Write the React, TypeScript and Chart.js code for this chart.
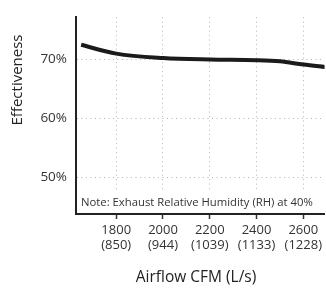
import React, { useEffect, useRef } from "react";
import { Chart, registerables } from "chart.js";

Chart.register(...registerables);

const CFM = [1650, 1800, 2000, 2200, 2400, 2500, 2600, 2700];
const EFFECTIVENESS = [72.5, 71.0, 70.25, 70.0, 69.9, 69.7, 69.15, 68.7];
const X_TICKS = [1800, 2000, 2200, 2400, 2600];
const X_TICKS_LS = ["(850)", "(944)", "(1039)", "(1133)", "(1228)"];
const Y_TICKS = [50, 60, 70];
const NOTE = "Note: Exhaust Relative Humidity (RH) at 40%";
const X_TITLE = "Airflow CFM (L/s)";
const Y_TITLE = "Effectiveness";

const FONT = "'Open Sans', sans-serif";

export default function App() {
  const ref = useRef<HTMLCanvasElement | null>(null);
  useEffect(() => {
    if (!ref.current) return;
    const textPlugin = {
      id: "texts",
      afterDraw(chart: any) {
        const ctx = chart.ctx;
        const area = chart.chartArea;
        ctx.save();
        ctx.fillStyle = "#ffffff";
        ctx.fillRect(area.left + 2, 191, 234, area.bottom - 192);
        ctx.fillStyle = "#333333";
        ctx.font = `11.3px ${FONT}`;
        ctx.textAlign = "left";
        ctx.textBaseline = "middle";
        ctx.fillText(NOTE, area.left + 5, 202.5);
        ctx.font = `15.5px ${FONT}`;
        ctx.fillStyle = "#222222";
        ctx.textAlign = "center";
        ctx.fillText(X_TITLE, 196, 278);
        ctx.font = `15px ${FONT}`;
        ctx.translate(18, 80);
        ctx.rotate(-Math.PI / 2);
        ctx.fillText(Y_TITLE, 0, 0);
        ctx.restore();
      },
    };
    const chart = new Chart(ref.current, {
      type: "line",
      data: {
        datasets: [
          {
            data: CFM.map((x, i) => ({ x, y: EFFECTIVENESS[i] })),
            borderColor: "#1c1a1b",
            borderWidth: 4,
            pointRadius: 0,
            cubicInterpolationMode: "monotone",
            borderCapStyle: "butt",
          },
        ],
      },
      options: {
        animation: false,
        responsive: false,
        layout: { padding: { top: 8, left: 0, right: 0, bottom: 0 } },
        plugins: { legend: { display: false }, tooltip: { enabled: false } },
        scales: {
          x: {
            type: "linear",
            min: 1628,
            max: 2691,
            afterBuildTicks: (s: any) => {
              s.ticks = X_TICKS.map((v) => ({ value: v }));
            },
            afterFit: (s: any) => {
              s.height = 74;
            },
            grid: {
              color: "#b5b5b5",
              lineWidth: 1,
              tickColor: "#333333",
              tickLength: 5,
              tickWidth: 1.5,
            },
            border: { display: true, color: "#222222", width: 2, dash: [1, 3.5] },
            ticks: {
              maxRotation: 0,
              autoSkip: false,
              padding: 4,
              color: "#333333",
              font: { family: FONT, size: 13, lineHeight: 1.12 },
              callback: (v: any) => {
                const i = X_TICKS.indexOf(Number(v));
                return i >= 0 ? [String(v), X_TICKS_LS[i]] : "";
              },
            },
          },
          y: {
            type: "linear",
            min: 43.8,
            max: 77.2,
            afterBuildTicks: (s: any) => {
              s.ticks = Y_TICKS.map((v) => ({ value: v }));
            },
            afterFit: (s: any) => {
              s.width = 76;
            },
            grid: { color: "#b5b5b5", lineWidth: 1, drawTicks: false },
            border: { display: true, color: "#222222", width: 2, dash: [1, 3.5] },
            ticks: {
              padding: 9,
              color: "#333333",
              font: { family: FONT, size: 13.5 },
              callback: (v: any) => `${v}%`,
            },
          },
        },
      },
      plugins: [textPlugin],
    } as any);
    return () => chart.destroy();
  }, []);
  return (
    <div style={{ position: "absolute", left: 0, top: 0, width: 326, height: 288, background: "#fff" }}>
      <canvas ref={ref} width={326} height={288} />
    </div>
  );
}
